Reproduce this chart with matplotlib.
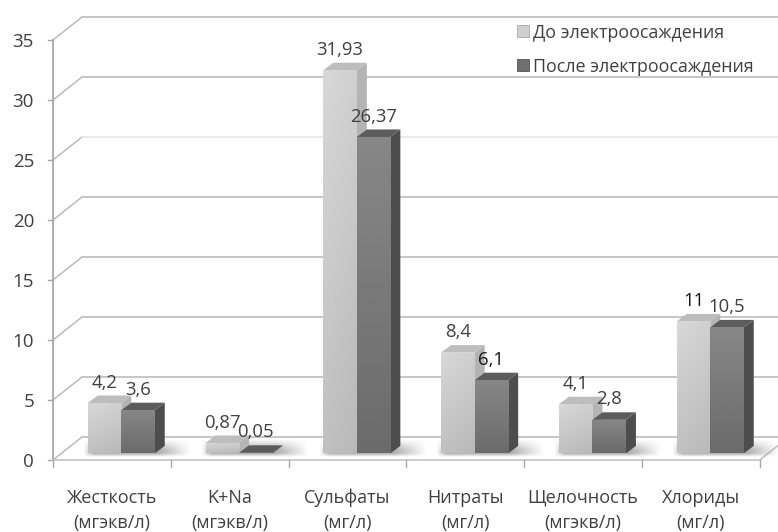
import numpy as np
import matplotlib
matplotlib.use('Agg')
import matplotlib.pyplot as plt
from matplotlib.patches import Polygon, Patch

plt.rcParams['font.family'] = ['Open Sans', 'DejaVu Sans']

categories = ['Жесткость', 'K+Na', 'Сульфаты', 'Нитраты', 'Щелочность', 'Хлориды']
units = ['(мгэкв/л)', '(мгэкв/л)', '(мг/л)', '(мг/л)', '(мгэкв/л)', '(мг/л)']
before = [4.2, 0.87, 31.93, 8.4, 4.1, 11]
after = [3.6, 0.05, 26.37, 6.1, 2.8, 10.5]
y_ticks = [0, 5, 10, 15, 20, 25, 30, 35]
series_names = ['До электроосаждения', 'После электроосаждения']

W, H = 778, 532
PX_X = 117.8    # pixels per category
PX_Y = 12.0     # pixels per unit of value
X0, Y0 = 53, 460

# oblique offset of the back wall and of the bar depth, in data units
WALL_DX, WALL_DY = 29 / PX_X, 23 / PX_Y
BAR_DX, BAR_DY = 10 / PX_X, 7.5 / PX_Y
BASE = 0.55         # bars stand a little behind the front edge of the floor
BAR_W = 33.5 / PX_X
BAR_START = 0.295
TEXT = '#404040'
GRID = '#bcbcbc'

fig = plt.figure(figsize=(W / 100, H / 100), dpi=100)
ax = fig.add_axes([0, 0, 1, 1])
ax.axis('off')
xlim = (-X0 / PX_X, (W - X0) / PX_X)
ylim = ((Y0 - H) / PX_Y, Y0 / PX_Y)
n = len(categories)


def shade(bar, top, bottom, side_light=0.0):
    # paint a bar face with a vertical gradient, slightly lighter at the left
    ramp = np.linspace(top, bottom, 64)[:, None] * np.ones((64, 16))
    ramp = ramp + side_light * np.linspace(1, -1, 16)[None, :]
    x, y = bar.get_x(), bar.get_y()
    im = ax.imshow(ramp, extent=(x, x + bar.get_width(), y, y + bar.get_height()),
                   cmap='gray', vmin=0, vmax=1, aspect='auto', origin='upper', zorder=bar.get_zorder())
    im.set_clip_path(bar)


def floor_shadow(x0, x1):
    # soft shadow the bars drop on the floor
    ny, nx = 40, 120
    yy, xx = np.mgrid[0:1:ny * 1j, 0:1:nx * 1j]
    a = np.minimum(xx / 0.1, 1) * np.minimum((1 - xx) / 0.3, 1)
    a = a * np.minimum(yy / 0.2, 1) * np.minimum((1 - yy) / 0.6, 1)
    rgba = np.zeros((ny, nx, 4))
    rgba[..., :3] = 0.55
    rgba[..., 3] = np.clip(a, 0, 1) * 0.7
    ax.imshow(rgba, extent=(x0, x1, BASE - 0.3, BASE + 1.15), aspect='auto',
              origin='lower', zorder=2.5)


# walls: gridlines run along the side wall and then along the back wall
for v in y_ticks:
    color = '#e6e6e6' if v == 25 else GRID
    ax.plot([0, WALL_DX], [v, v + WALL_DY], color=GRID, lw=1.1, zorder=1)
    ax.plot([WALL_DX, xlim[1]], [v + WALL_DY, v + WALL_DY], color=color, lw=1.2, zorder=1)
    ax.plot([-5 / PX_X, 0], [v, v], color='#a8a8a8', lw=1, zorder=2)
    ax.text(-19 / PX_X, v - 0.2, str(v), ha='right', va='center', fontsize=13.5, color=TEXT)

ax.plot([0, 0], [0, y_ticks[-1]], color='#a8a8a8', lw=1.3, zorder=2)

# floor outline and category ticks
ax.plot([0, n, n + WALL_DX], [0, 0, WALL_DY], color='#c4c4c4', lw=1.2, zorder=2)
for i in range(n + 1):
    ax.plot([i, i], [0, -7 / PX_Y], color='#a8a8a8', lw=1, zorder=2)

for i in range(n):
    ax.text(i + 0.5, -38 / PX_Y, categories[i], ha='center', va='center', fontsize=13, color=TEXT)
    ax.text(i + 0.5, -63 / PX_Y, units[i], ha='center', va='center', fontsize=13, color=TEXT)
    floor_shadow(i + BAR_START - 0.04, i + BAR_START + 2 * BAR_W + 0.3)

pos = np.arange(n) + BAR_START
styles = [
    dict(top=0.83, bottom=0.74, side_light=0.015, cap='#bdbdbd', side='#b4b4b4'),
    dict(top=0.53, bottom=0.42, side_light=0.0, cap='#5c5c5c', side='#4d4d4d'),
]
# these two values stand out darker on the chart
dark_labels = {11: '#1a1a1a', 6.1: '#1a1a1a'}

for k, values in enumerate([before, after]):
    st = styles[k]
    xs = pos + k * BAR_W
    z = 3 + 2 * k
    bars = ax.bar(xs, values, width=BAR_W, bottom=BASE, align='edge', color='none', zorder=z + 1)
    for bar, v in zip(bars, values):
        x = bar.get_x()
        top = BASE + v
        side = Polygon([(x + BAR_W, BASE), (x + BAR_W + BAR_DX, BASE + BAR_DY),
                        (x + BAR_W + BAR_DX, top + BAR_DY), (x + BAR_W, top)],
                       closed=True, fc=st['side'], ec='none', zorder=z)
        cap = Polygon([(x, top), (x + BAR_DX, top + BAR_DY),
                       (x + BAR_W + BAR_DX, top + BAR_DY), (x + BAR_W, top)],
                      closed=True, fc=st['cap'], ec='none', zorder=z)
        ax.add_patch(side)
        ax.add_patch(cap)
        shade(bar, st['top'], st['bottom'], st['side_light'])
        ax.text(x + BAR_W / 2, top + 1.7, str(v).replace('.', ','), ha='center', va='center',
                fontsize=13.3, color=dark_labels.get(v, TEXT), zorder=9)

handles = [Patch(fc='#cfcfcf', ec='#a8a8a8', lw=0.6), Patch(fc='#6f6f6f', ec='#555555', lw=0.6)]
ax.legend(handles, series_names, loc='upper left', bbox_to_anchor=(517 / W, 1 - 23.5 / H),
          frameon=False, fontsize=12.9, labelcolor=TEXT, handlelength=0.65, handleheight=0.65,
          handletextpad=0.25, labelspacing=0.9, borderpad=0, borderaxespad=0)

ax.set_xlim(xlim)
ax.set_ylim(ylim)
fig.savefig('out.png', dpi=100)
